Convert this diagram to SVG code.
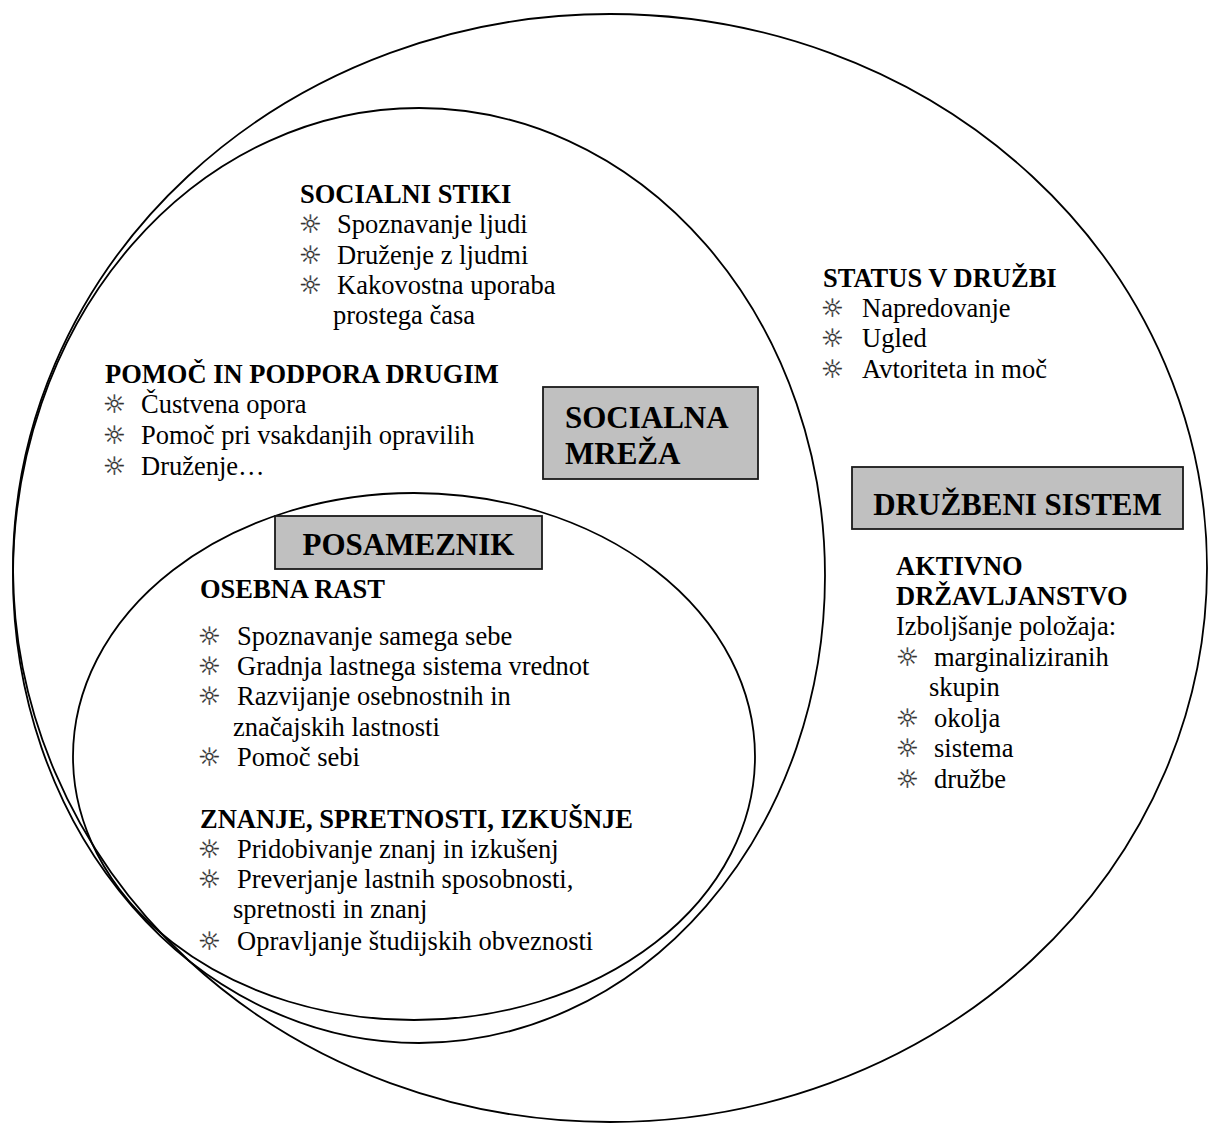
<svg xmlns="http://www.w3.org/2000/svg" width="1209" height="1124" viewBox="0 0 1209 1124">
<style>
.ring{fill:none;stroke:#000;stroke-width:1.8}
.box{fill:#c0c0c0;stroke:#1a1a1a;stroke-width:1.8}
.lbl{font-family:"Liberation Serif","Times New Roman",serif;font-weight:bold;font-size:31px;fill:#000}
.h{font-family:"Liberation Serif","Times New Roman",serif;font-weight:bold;font-size:26.5px;fill:#000}
.t{font-family:"Liberation Serif","Times New Roman",serif;font-size:26.5px;fill:#000}
.s{font-family:"DejaVu Sans",sans-serif;font-size:25.5px;fill:#333;stroke:#333;stroke-width:0.3}
</style>
<rect width="1209" height="1124" fill="#fff"/>
<g id="druzbeni-sistem">
<ellipse class="ring" cx="610" cy="568" rx="597" ry="554"/>
</g>
<g id="socialna-mreza">
<ellipse class="ring" cx="419" cy="575.5" rx="406" ry="467.5"/>
</g>
<g id="posameznik">
<ellipse class="ring" cx="414" cy="756.5" rx="341" ry="263.5"/>
</g>
<g id="connectors"></g>
<g id="box-socialna-mreza">
<rect class="box" x="543" y="387" width="215" height="92"/>
<text class="lbl" x="565" y="428">SOCIALNA</text>
<text class="lbl" x="565" y="464">MREŽA</text>
</g>
<g id="box-posameznik">
<rect class="box" x="275" y="516" width="267" height="53"/>
<text class="lbl" x="408.5" y="555" text-anchor="middle">POSAMEZNIK</text>
</g>
<g id="box-druzbeni-sistem">
<rect class="box" x="852" y="467" width="331" height="62"/>
<text class="lbl" x="1017.5" y="515" text-anchor="middle">DRUŽBENI SISTEM</text>
</g>
<g id="socialni-stiki">
<text class="h" x="300" y="203">SOCIALNI STIKI</text>
<text class="t" y="233"><tspan class="s" x="299">☼</tspan><tspan x="337">Spoznavanje ljudi</tspan></text>
<text class="t" y="264"><tspan class="s" x="299">☼</tspan><tspan x="337">Druženje z ljudmi</tspan></text>
<text class="t" y="294"><tspan class="s" x="299">☼</tspan><tspan x="337">Kakovostna uporaba</tspan></text>
<text class="t" x="333" y="324">prostega časa</text>
</g>
<g id="pomoc-in-podpora">
<text class="h" x="105" y="383">POMOČ IN PODPORA DRUGIM</text>
<text class="t" y="413"><tspan class="s" x="103">☼</tspan><tspan x="141">Čustvena opora</tspan></text>
<text class="t" y="444"><tspan class="s" x="103">☼</tspan><tspan x="141">Pomoč pri vsakdanjih opravilih</tspan></text>
<text class="t" y="475"><tspan class="s" x="103">☼</tspan><tspan x="141">Druženje…</tspan></text>
</g>
<g id="status-v-druzbi">
<text class="h" x="823" y="287">STATUS V DRUŽBI</text>
<text class="t" y="317"><tspan class="s" x="821">☼</tspan><tspan x="862">Napredovanje</tspan></text>
<text class="t" y="347"><tspan class="s" x="821">☼</tspan><tspan x="862">Ugled</tspan></text>
<text class="t" y="378"><tspan class="s" x="821">☼</tspan><tspan x="862">Avtoriteta in moč</tspan></text>
</g>
<g id="osebna-rast">
<text class="h" x="200" y="598">OSEBNA RAST</text>
<text class="t" y="645"><tspan class="s" x="198">☼</tspan><tspan x="237">Spoznavanje samega sebe</tspan></text>
<text class="t" y="675"><tspan class="s" x="198">☼</tspan><tspan x="237">Gradnja lastnega sistema vrednot</tspan></text>
<text class="t" y="705"><tspan class="s" x="198">☼</tspan><tspan x="237">Razvijanje osebnostnih in</tspan></text>
<text class="t" x="233" y="736">značajskih lastnosti</text>
<text class="t" y="766"><tspan class="s" x="198">☼</tspan><tspan x="237">Pomoč sebi</tspan></text>
</g>
<g id="znanje">
<text class="h" x="200" y="828">ZNANJE, SPRETNOSTI, IZKUŠNJE</text>
<text class="t" y="858"><tspan class="s" x="198">☼</tspan><tspan x="237">Pridobivanje znanj in izkušenj</tspan></text>
<text class="t" y="888"><tspan class="s" x="198">☼</tspan><tspan x="237">Preverjanje lastnih sposobnosti,</tspan></text>
<text class="t" x="233" y="918">spretnosti in znanj</text>
<text class="t" y="950"><tspan class="s" x="198">☼</tspan><tspan x="237">Opravljanje študijskih obveznosti</tspan></text>
</g>
<g id="aktivno-drzavljanstvo">
<text class="h" x="896" y="575">AKTIVNO</text>
<text class="h" x="896" y="605">DRŽAVLJANSTVO</text>
<text class="t" x="896" y="635">Izboljšanje položaja:</text>
<text class="t" y="666"><tspan class="s" x="896">☼</tspan><tspan x="934">marginaliziranih</tspan></text>
<text class="t" x="929" y="696">skupin</text>
<text class="t" y="727"><tspan class="s" x="896">☼</tspan><tspan x="934">okolja</tspan></text>
<text class="t" y="757"><tspan class="s" x="896">☼</tspan><tspan x="934">sistema</tspan></text>
<text class="t" y="788"><tspan class="s" x="896">☼</tspan><tspan x="934">družbe</tspan></text>
</g>
</svg>
